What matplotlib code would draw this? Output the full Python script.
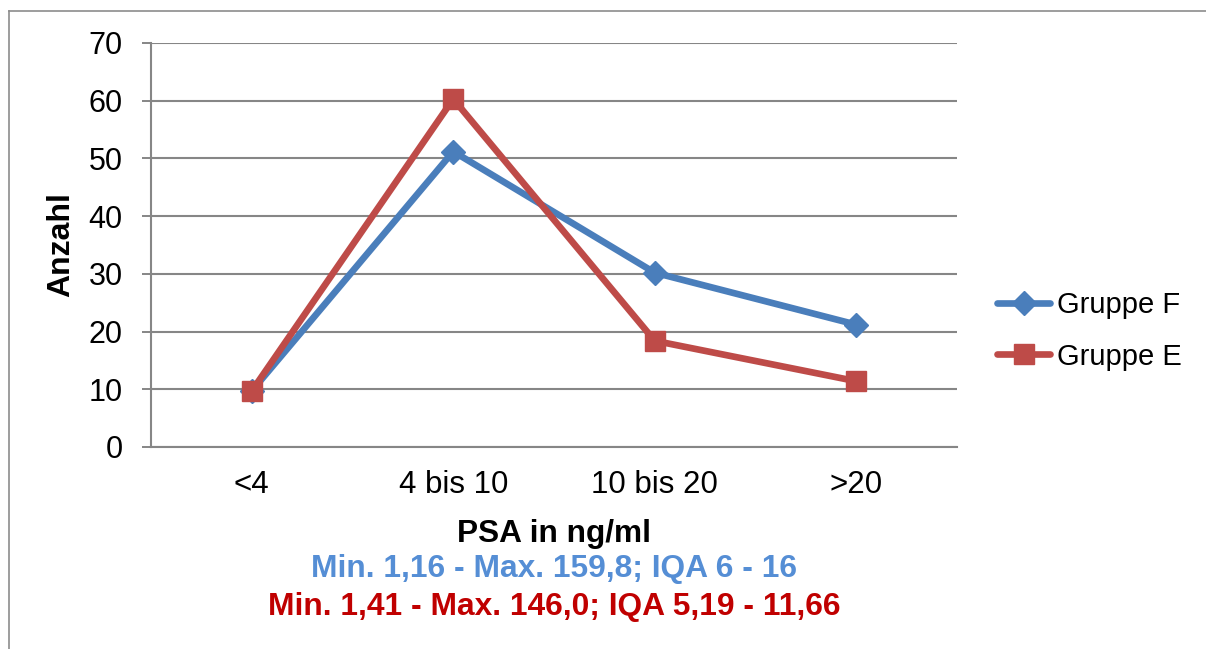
import matplotlib
matplotlib.use("Agg")
import matplotlib.pyplot as plt
from matplotlib.lines import Line2D

categories = ["<4", "4 bis 10", "10 bis 20", ">20"]
gruppe_f = [9.7, 51.2, 30.2, 21.2]
gruppe_e = [9.7, 60.3, 18.4, 11.4]
yticks = [0, 10, 20, 30, 40, 50, 60, 70]
series_names = ["Gruppe F", "Gruppe E"]
line_blue = "Min. 1,16 - Max. 159,8; IQA 6 - 16"
line_red = "Min. 1,41 - Max. 146,0; IQA 5,19 - 11,66"

plt.rcParams['font.family'] = ['Liberation Sans', 'DejaVu Sans']

W, H = 1206, 649
fig = plt.figure(figsize=(W / 100, H / 100), dpi=100)
ax = fig.add_axes([151 / W, 1 - 447 / H, 806 / W, 404 / H])

grid_c = "#868686"
blue = "#4A7EBB"
red = "#BE4B48"

x = [i + 0.5 for i in range(len(categories))]
ax.plot(x, gruppe_f, color=blue, lw=4.8, marker="D", markersize=12,
        label=series_names[0], solid_joinstyle="round", solid_capstyle="round", zorder=3)
ax.plot(x, gruppe_e, color=red, lw=4.8, marker="s", markersize=14,
        label=series_names[1], solid_joinstyle="round", solid_capstyle="round", zorder=4)

ax.set_xlim(0, len(categories))
ax.set_ylim(0, 70)
ax.set_yticks(yticks)
ax.set_xticks(x)
ax.set_xticklabels(categories, fontsize=22.5)
ax.tick_params(axis="x", length=0, pad=16.5)
ax.tick_params(axis="y", labelsize=22, length=6.5, width=1.4, color=grid_c, pad=14)
ax.yaxis.grid(True, color=grid_c, lw=1.5)
ax.set_axisbelow(True)
for s in ["top", "right"]:
    ax.spines[s].set_visible(False)
for s in ["left", "bottom"]:
    ax.spines[s].set_color(grid_c)
    ax.spines[s].set_linewidth(1.5)

fig.text(61 / W, 1 - 245 / H, "Anzahl", rotation=90, fontsize=23, fontweight="bold",
         ha="center", va="center")
cx = 554 / W
fig.text(cx, 1 - 542 / H, "PSA in ng/ml", fontsize=22.8, fontweight="bold",
         ha="center", va="baseline")
fig.text(cx, 1 - 577 / H, line_blue, fontsize=22.9, fontweight="bold",
         color="#558ED5", ha="center", va="baseline")
fig.text(cx, 1 - 615 / H, line_red, fontsize=22.9, fontweight="bold",
         color="#C00000", ha="center", va="baseline")

leg = fig.legend(loc="center left", bbox_to_anchor=(971 / W, 1 - 331 / H), frameon=False,
                 fontsize=21, handlelength=1.8, handletextpad=0.25, labelspacing=0.8)

# outer chart border (partially visible)
bc = "#8C8C8C"
fig.add_artist(Line2D([9 / W, 9 / W], [0, 1 - 11 / H], color=bc, lw=1.2, transform=fig.transFigure))
fig.add_artist(Line2D([9 / W, 1], [1 - 11 / H, 1 - 11 / H], color=bc, lw=1.2, transform=fig.transFigure))

fig.savefig("out.png", dpi=100)
